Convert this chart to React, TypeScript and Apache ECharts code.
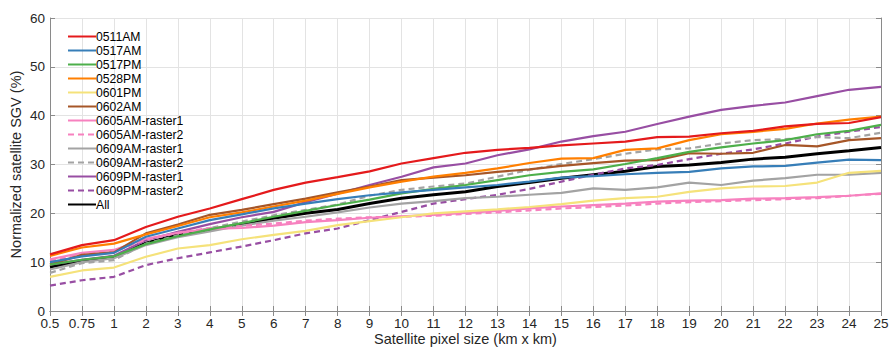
import React, { useEffect, useRef } from "react";
import * as echarts from "echarts";

const categories = ["0.5", "0.75", "1", "2", "3", "4", "5", "6", "7", "8", "9", "10", "11", "12", "13", "14", "15", "16", "17", "18", "19", "20", "21", "22", "23", "24", "25"];
const yTicks = [0, 10, 20, 30, 40, 50, 60];

const s0511AM = [11.6, 13.5, 14.5, 17.2, 19.3, 21.0, 22.9, 24.8, 26.3, 27.4, 28.6, 30.2, 31.3, 32.4, 33.0, 33.4, 33.9, 34.3, 34.7, 35.6, 35.7, 36.4, 36.9, 37.8, 38.3, 38.5, 39.7];
const s0517AM = [10.0, 11.2, 11.9, 15.2, 16.9, 18.6, 19.8, 21.0, 22.0, 22.9, 23.7, 24.3, 24.8, 25.3, 25.8, 26.5, 27.3, 27.6, 28.0, 28.3, 28.5, 29.2, 29.6, 29.7, 30.4, 31.0, 30.9];
const s0517PM = [9.5, 10.5, 11.2, 13.7, 15.3, 16.7, 18.0, 19.3, 20.5, 21.7, 22.8, 24.1, 25.0, 25.8, 26.8, 27.8, 28.5, 29.0, 30.1, 31.3, 32.6, 33.5, 34.3, 35.0, 36.2, 36.9, 38.1];
const s0528PM = [11.3, 13.0, 13.8, 15.7, 17.4, 19.2, 20.2, 21.4, 22.6, 24.0, 25.3, 26.5, 27.5, 28.3, 29.2, 30.3, 31.2, 31.3, 33.0, 33.3, 35.0, 36.2, 36.7, 37.3, 38.4, 39.2, 39.8];
const s0601PM = [7.0, 8.3, 8.9, 11.1, 12.8, 13.5, 14.7, 15.6, 16.4, 17.6, 18.4, 19.2, 20.0, 20.4, 20.8, 21.3, 21.9, 22.6, 23.1, 23.4, 24.4, 25.1, 25.5, 25.6, 26.3, 28.3, 28.7];
const s0602AM = [9.5, 11.5, 12.0, 15.9, 17.7, 19.7, 20.7, 21.9, 23.0, 24.3, 25.5, 26.8, 27.3, 27.8, 28.5, 29.0, 29.7, 30.3, 30.8, 30.9, 32.3, 32.2, 32.4, 34.0, 33.7, 35.0, 35.4];
const s0605AMr1 = [10.6, 11.9, 12.5, 14.8, 16.0, 16.8, 17.0, 17.5, 18.2, 18.6, 19.1, 19.4, 19.7, 20.1, 20.5, 21.0, 21.4, 21.7, 22.0, 22.4, 22.6, 22.7, 23.0, 23.1, 23.3, 23.6, 24.1];
const s0605AMr2 = [10.3, 11.6, 12.2, 14.6, 16.0, 17.0, 17.4, 17.9, 18.5, 18.9, 19.2, 19.3, 19.5, 19.9, 20.2, 20.6, 21.0, 21.3, 21.6, 22.0, 22.3, 22.5, 22.7, 22.9, 23.1, 23.6, 24.0];
const s0609AMr1 = [8.5, 10.0, 10.8, 13.5, 15.1, 16.3, 17.5, 18.5, 19.3, 20.2, 21.2, 22.0, 22.5, 23.1, 23.4, 23.8, 24.2, 25.1, 24.8, 25.3, 26.3, 25.8, 26.7, 27.2, 27.9, 27.9, 28.3];
const s0609AMr2 = [7.8, 9.8, 10.4, 13.8, 15.5, 17.0, 18.3, 19.6, 20.7, 21.8, 23.6, 24.8, 25.5, 26.1, 27.5, 28.9, 30.1, 31.1, 32.2, 33.1, 33.3, 34.3, 35.0, 35.2, 35.6, 35.4, 36.5];
const s0609PMr1 = [9.5, 10.5, 11.3, 14.5, 16.2, 17.8, 19.2, 20.3, 22.3, 24.0, 25.8, 27.5, 29.4, 30.2, 31.9, 33.1, 34.7, 35.8, 36.7, 38.3, 39.8, 41.2, 42.0, 42.7, 44.0, 45.3, 45.9];
const s0609PMr2 = [5.2, 6.3, 7.0, 9.4, 10.8, 12.0, 13.2, 14.5, 15.9, 16.9, 18.6, 20.3, 22.0, 22.9, 23.8, 25.0, 26.5, 27.9, 29.2, 29.9, 31.1, 32.2, 33.1, 34.3, 35.7, 36.7, 37.7];
const sAll = [9.0, 10.3, 11.1, 13.9, 15.6, 16.6, 17.8, 19.0, 20.0, 20.8, 22.0, 23.1, 23.8, 24.4, 25.5, 26.3, 27.2, 27.9, 28.6, 29.6, 29.9, 30.4, 31.1, 31.5, 32.2, 32.8, 33.5];

const seriesNames = ["0511AM", "0517AM", "0517PM", "0528PM", "0601PM", "0602AM", "0605AM-raster1", "0605AM-raster2", "0609AM-raster1", "0609AM-raster2", "0609PM-raster1", "0609PM-raster2", "All"];
const seriesData = [s0511AM, s0517AM, s0517PM, s0528PM, s0601PM, s0602AM, s0605AMr1, s0605AMr2, s0609AMr1, s0609AMr2, s0609PMr1, s0609PMr2, sAll];
const seriesColors = ["#E41A1C", "#377EB8", "#4DAF4A", "#FF7F00", "#F5E27A", "#A65628", "#F781BF", "#F781BF", "#A3A3A3", "#A3A3A3", "#984EA3", "#984EA3", "#000000"];
const seriesDashed = [false, false, false, false, false, false, false, true, false, true, false, true, false];
const seriesWidths = [2.2, 2.2, 2.2, 2.2, 2.2, 2.2, 2.2, 2.2, 2.2, 2.2, 2.2, 2.2, 3];

const FONT = "Liberation Sans, Arial, Helvetica, sans-serif";
const AXIS_GRAY = "#8a8a8a";
const TEXT_COLOR = "#262626";

export default function App() {
  const ref = useRef<HTMLDivElement>(null);
  useEffect(() => {
    if (!ref.current) return;
    const chart = echarts.init(ref.current, null, { renderer: "svg" });
    const series = seriesNames.map((name, i) => ({
      name,
      type: "line",
      data: seriesData[i],
      symbol: "none",
      showSymbol: false,
      color: seriesColors[i],
      z: 10 + (seriesNames.length - i),
      lineStyle: {
        color: seriesColors[i],
        width: seriesWidths[i],
        type: seriesDashed[i] ? [6, 4] : "solid",
      },
    }));
    chart.setOption({
      animation: false,
      backgroundColor: "#ffffff",
      textStyle: { fontFamily: FONT },
      grid: { left: 50, right: 9, top: 18, bottom: 36, containLabel: false, outerBoundsMode: "none" },
      legend: {
        orient: "vertical",
        left: 62,
        top: 25,
        itemWidth: 28,
        itemHeight: 13,
        itemGap: 1,
        data: seriesNames,
        itemStyle: { color: "transparent", borderColor: "transparent", borderWidth: 0, opacity: 0 },
        textStyle: { fontFamily: FONT, fontSize: 12.2, lineHeight: 13, color: "#000", padding: [0, 0, 0, -5] },
      },
      xAxis: [
        {
          type: "category",
          data: categories,
          boundaryGap: false,
          name: "Satellite pixel size (km x km)",
          nameLocation: "middle",
          nameGap: 20,
          nameMoveOverlap: false,
          nameTextStyle: { fontFamily: FONT, fontSize: 14.5, color: TEXT_COLOR },
          axisLine: { show: true, lineStyle: { color: AXIS_GRAY, width: 1 } },
          axisTick: { show: true, inside: true, length: 5, lineStyle: { color: AXIS_GRAY } },
          axisLabel: { fontFamily: FONT, fontSize: 13.5, lineHeight: 13.5, color: TEXT_COLOR, margin: 6, interval: 0 },
          splitLine: { show: true, lineStyle: { color: "#e3e3e3", width: 1 } },
        },
        {
          type: "category",
          data: categories,
          boundaryGap: false,
          position: "top",
          axisLine: { show: true, lineStyle: { color: AXIS_GRAY, width: 1 } },
          axisTick: { show: true, inside: true, length: 5, lineStyle: { color: AXIS_GRAY } },
          axisLabel: { show: false },
          splitLine: { show: false },
        },
      ],
      yAxis: [
        {
          type: "value",
          min: 0,
          max: 60,
          interval: 10,
          name: "Normalized satellite SGV (%)",
          nameLocation: "middle",
          nameGap: 27,
          nameMoveOverlap: false,
          nameTextStyle: { fontFamily: FONT, fontSize: 14.5, color: TEXT_COLOR },
          axisLine: { show: true, lineStyle: { color: AXIS_GRAY, width: 1 } },
          axisTick: { show: true, inside: true, length: 5, lineStyle: { color: AXIS_GRAY } },
          axisLabel: {
            fontFamily: FONT,
            fontSize: 13.5,
            lineHeight: 11,
            color: TEXT_COLOR,
            margin: 5,
            formatter: (v: number) => (yTicks.includes(v) ? String(v) : ""),
          },
          splitLine: { show: true, lineStyle: { color: "#e3e3e3", width: 1 } },
        },
        {
          type: "value",
          min: 0,
          max: 60,
          interval: 10,
          position: "right",
          axisLine: { show: true, lineStyle: { color: AXIS_GRAY, width: 1 } },
          axisTick: { show: true, inside: true, length: 5, lineStyle: { color: AXIS_GRAY } },
          axisLabel: { show: false },
          splitLine: { show: false },
        },
      ],
      series,
    });
    return () => chart.dispose();
  }, []);
  return (
    <div
      ref={ref}
      style={{ position: "fixed", left: 0, top: 0, width: 890, height: 347, background: "#fff" }}
    />
  );
}
